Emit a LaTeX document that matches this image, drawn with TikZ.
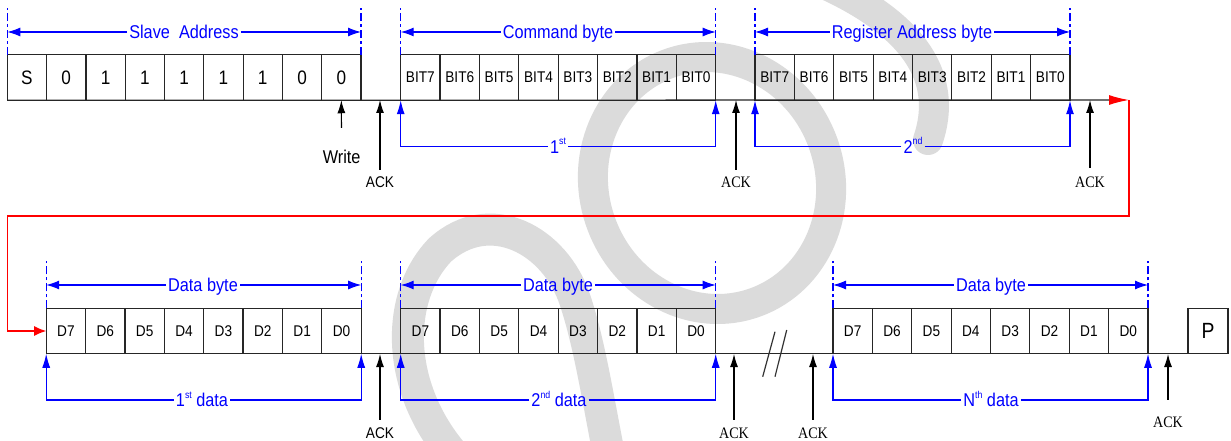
\documentclass[tikz,border=0pt]{standalone}
\usepackage{fontspec}
\setmainfont{Liberation Sans}
\newfontfamily\labfont{Liberation Sans}[FakeStretch=0.88]
\newfontfamily\serfont{Liberation Serif}[FakeStretch=0.88]
\usetikzlibrary{arrows.meta,calc}
\newcommand\supx[1]{\raisebox{0.45em}{\fontsize{10}{10}\selectfont #1}}
\tikzset{
  cell/.style={draw=black!85, line width=1.2pt, minimum width=39.375pt, minimum height=45.5pt,
    inner sep=0pt, outer sep=0pt, anchor=west, font=\labfont\fontsize{15.5}{16}\selectfont},
  bigcell/.style={cell, minimum width=39.3pt, font=\labfont\fontsize{19.5}{20}\selectfont},
  pcell/.style={cell, minimum width=40pt, font=\labfont\fontsize{22}{22}\selectfont},
  dimline/.style={blue, line width=1.1pt, -{Latex[length=13pt,width=9pt]}},
  guide/.style={blue, line width=1.1pt, dash pattern=on 8pt off 3pt on 3pt off 3pt},
  uparrow/.style={blue, line width=1.1pt, -{Latex[length=14pt,width=8pt]}},
  ackarrow/.style={black, line width=1.1pt, -{Latex[length=13pt,width=8pt]}},
  bluelab/.style={text=blue, font=\labfont\fontsize{18.5}{19}\selectfont, inner sep=2pt,
    text height=13.2pt, text depth=0pt},
  acks/.style={font=\labfont\fontsize{15.5}{16}\selectfont, inner sep=0pt, text height=11.1pt, text depth=0pt},
  ackr/.style={font=\serfont\fontsize{16}{16}\selectfont, inner sep=0pt, text height=10.6pt, text depth=0pt},
  baseln/.style={black!85, line width=1.2pt},
  redln/.style={red, line width=1.3pt},
  brk/.style={black!80, line width=1.2pt},
  wm/.style={black!14},
}
\begin{document}
\begin{tikzpicture}[x=1pt,y=-1pt]
\useasboundingbox[fill=white] (0,0) rectangle (1231,441);
% watermark
\begin{scope}
  \clip (0,0) rectangle (1231,441);
  \draw[wm, line width=30pt, rotate around={20:(712,183)}] (712,183) ellipse [x radius=118pt, y radius=127pt];
  \draw[wm, line width=32pt] (468,470) .. controls (395,400) and (392,300) .. (440,250)
     .. controls (490,205) and (555,240) .. (575,300) .. controls (590,345) and (598,400) .. (612,470);
  \draw[wm, line width=30pt, line cap=round] (815,-20) .. controls (885,10) and (955,60) .. (928,140);
\end{scope}
% level coordinates
\coordinate (Ttop) at (0,8);
\coordinate (Btop) at (0,261);
% cells
\foreach \t [count=\i from 0] in {S,0,1,1,1,1,1,0,0}
  \node[bigcell] (a\i) at ({7.3+\i*39.3},77.5) {\t};
\foreach \t [count=\i from 0] in {7,6,5,4,3,2,1,0} {
  \node[cell] (c\i) at ({400.7+\i*39.375},77.5) {BIT\t};
  \node[cell] (r\i) at ({755+\i*39.375},77.5) {BIT\t};
  \node[cell] (d\i) at ({46.2+\i*39.375},331) {D\t};
  \node[cell] (e\i) at ({400.7+\i*39.375},331) {D\t};
  \node[cell] (n\i) at ({833+\i*39.375},331) {D\t};
}
\node[pcell] (p) at (1188,331) {P};
% base lines
\coordinate (rs) at (1109,100);
\coordinate (rc) at (1129,100);
\coordinate (rl) at (7.3,216);
\draw[baseln] (a0.south west) -- (rs);
\draw[redln, -{Latex[length=20pt,width=10pt]}] (rs) -- (rc);
\draw[redln, -{Latex[length=12pt,width=10pt]}] (rc) |- (rl) |- (d0.west);
\draw[baseln] (d0.south west) -- (p.south west);
% break mark
\coordinate (b1a) at (762.7,376.7); \coordinate (b1b) at (775,331.7);
\coordinate (b2a) at (775,376.7); \coordinate (b2b) at (786.7,330);
\draw[brk] (b1a) -- (b1b);
\draw[brk] (b2a) -- (b2b);
% guides top
\draw[guide] (a0.north west) -- (a0.north west |- Ttop);
\draw[guide] (a8.north east) -- (a8.north east |- Ttop);
\draw[guide] (c0.north west) -- (c0.north west |- Ttop);
\draw[guide] (c7.north east) -- (c7.north east |- Ttop);
\draw[guide] (r0.north west) -- (r0.north west |- Ttop);
\draw[guide] (r7.north east) -- (r7.north east |- Ttop);
% guides bottom
\draw[guide] (d0.north west) -- (d0.north west |- Btop);
\draw[guide] (d7.north east) -- (d7.north east |- Btop);
\draw[guide] (e0.north west) -- (e0.north west |- Btop);
\draw[guide] (e7.north east) -- (e7.north east |- Btop);
\draw[guide] (n0.north west) -- (n0.north west |- Btop);
\draw[guide] (n7.north east) -- (n7.north east |- Btop);
% dimension labels top
\node[bluelab] (sal) at (184,32) {Slave\ \ Address};
\draw[dimline] (sal.west) -- (a0.north west |- sal.west);
\draw[dimline] (sal.east) -- (a8.north east |- sal.east);
\node[bluelab] (cbl) at (558,32) {Command byte};
\draw[dimline] (cbl.west) -- (c0.north west |- cbl.west);
\draw[dimline] (cbl.east) -- (c7.north east |- cbl.east);
\node[bluelab] (rbl) at (912,32) {Register Address byte};
\draw[dimline] (rbl.west) -- (r0.north west |- rbl.west);
\draw[dimline] (rbl.east) -- (r7.north east |- rbl.east);
% dimension labels bottom row
\node[bluelab] (dbl1) at (203,285) {Data byte};
\draw[dimline] (dbl1.west) -- (d0.north west |- dbl1.west);
\draw[dimline] (dbl1.east) -- (d7.north east |- dbl1.east);
\node[bluelab] (dbl2) at (558,285) {Data byte};
\draw[dimline] (dbl2.west) -- (e0.north west |- dbl2.west);
\draw[dimline] (dbl2.east) -- (e7.north east |- dbl2.east);
\node[bluelab] (dbl3) at (991,285) {Data byte};
\draw[dimline] (dbl3.west) -- (n0.north west |- dbl3.west);
\draw[dimline] (dbl3.east) -- (n7.north east |- dbl3.east);
% brackets below
\node[bluelab] (o1) at (558,146.7) {1\supx{st}};
\draw[uparrow] (o1.west) -| (c0.south west);
\draw[uparrow] (o1.east) -| (c7.south east);
\node[bluelab] (o2) at (913,146.7) {2\supx{nd}};
\draw[uparrow] (o2.west) -| (r0.south west);
\draw[uparrow] (o2.east) -| (r7.south east);
\node[bluelab] (o3) at (202,400) {1\supx{st} data};
\draw[uparrow] (o3.west) -| (d0.south west);
\draw[uparrow] (o3.east) -| (d7.south east);
\node[bluelab] (o4) at (559,400) {2\supx{nd} data};
\draw[uparrow] (o4.west) -| (e0.south west);
\draw[uparrow] (o4.east) -| (e7.south east);
\node[bluelab] (o5) at (991,400) {N\supx{th} data};
\draw[uparrow] (o5.west) -| (n0.south west);
\draw[uparrow] (o5.east) -| (n7.south east);
% write + ack
\node[font=\labfont\fontsize{18.5}{19}\selectfont, inner sep=0pt, text height=13.2pt, text depth=0pt, outer ysep=22.5pt] (wr) at (341.6,157) {Write};
\draw[ackarrow] (wr) -- (a8.south);
\coordinate (k1) at (380,100);
\coordinate (k2) at (736,100);
\coordinate (k3) at (1090,100);
\coordinate (k4) at (380,354);
\coordinate (k5) at (734,354);
\coordinate (k6) at (813,354);
\coordinate (k7) at (1168,354);
\node[acks, outer ysep=6pt] (k1l) at (380,181.5) {ACK};
\node[ackr, outer ysep=7.2pt] (k2l) at (736,182) {ACK};
\node[ackr, outer ysep=9.2pt] (k3l) at (1090,182) {ACK};
\node[acks, outer ysep=7.5pt] (k4l) at (380,433) {ACK};
\node[ackr, outer ysep=8.2pt] (k5l) at (734,433) {ACK};
\node[ackr, outer ysep=8.2pt] (k6l) at (813,433) {ACK};
\node[ackr, outer ysep=17.2pt] (k7l) at (1168,422) {ACK};
\foreach \k in {1,...,7} \draw[ackarrow] (k\k l) -- (k\k);
\end{tikzpicture}
\end{document}
